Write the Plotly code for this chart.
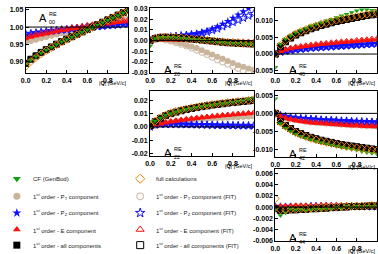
import plotly.graph_objects as go

# ---------------- data ----------------
Q = [0.0, 0.05, 0.1, 0.15, 0.2, 0.25, 0.3, 0.35, 0.4, 0.45, 0.5,
     0.55, 0.6, 0.65, 0.7, 0.75, 0.8, 0.85, 0.9, 0.95, 1.0]

# A00
A00_cf = [0.892, 0.904, 0.914, 0.924, 0.933, 0.941, 0.949, 0.957, 0.964, 0.971, 0.978, 0.985, 0.992, 0.999, 1.006, 1.013, 1.020, 1.027, 1.034, 1.041, 1.048]
A00_pt = [0.955, 0.959, 0.963, 0.967, 0.971, 0.975, 0.978, 0.982, 0.985, 0.988, 0.991, 0.994, 0.997, 1.000, 1.003, 1.006, 1.009, 1.012, 1.015, 1.018, 1.021]
A00_pt_fit = [0.958, 0.962, 0.966, 0.970, 0.974, 0.977, 0.981, 0.984, 0.987, 0.990, 0.993, 0.996, 0.999, 1.002, 1.005, 1.008, 1.011, 1.014, 1.017, 1.020, 1.023]
A00_pz = [0.977, 0.979, 0.981, 0.983, 0.985, 0.987, 0.988, 0.990, 0.991, 0.993, 0.994, 0.996, 0.997, 0.999, 1.000, 1.001, 1.003, 1.004, 1.005, 1.007, 1.008]
A00_pz_fit = [0.979, 0.981, 0.983, 0.985, 0.987, 0.989, 0.990, 0.992, 0.993, 0.995, 0.996, 0.998, 0.999, 1.001, 1.002, 1.003, 1.005, 1.006, 1.007, 1.009, 1.010]
A00_e = [0.966, 0.970, 0.974, 0.977, 0.980, 0.983, 0.986, 0.989, 0.991, 0.994, 0.996, 0.998, 1.001, 1.003, 1.005, 1.007, 1.009, 1.011, 1.013, 1.015, 1.017]
A00_e_fit = [0.970, 0.974, 0.978, 0.981, 0.984, 0.987, 0.990, 0.993, 0.995, 0.998, 1.000, 1.002, 1.005, 1.007, 1.009, 1.011, 1.013, 1.015, 1.017, 1.019, 1.021]
A00_all = [0.894, 0.906, 0.916, 0.926, 0.934, 0.942, 0.950, 0.958, 0.965, 0.972, 0.979, 0.986, 0.993, 1.000, 1.007, 1.014, 1.021, 1.028, 1.035, 1.042, 1.049]
A00_full = [0.885, 0.899, 0.911, 0.922, 0.931, 0.940, 0.948, 0.956, 0.964, 0.971, 0.978, 0.985, 0.992, 0.999, 1.006, 1.013, 1.020, 1.027, 1.034, 1.041, 1.048]

# A20
A20_cf = [-0.005, 0.002, 0.003, 0.0032, 0.003, 0.0028, 0.0025, 0.002, 0.0015, 0.001, 0.0005, 0.0, -0.0005, -0.001, -0.0015, -0.002, -0.0022, -0.0025, -0.0028, -0.003, -0.0032]
A20_pt = [0.0, 0.001, 0.0015, 0.001, 0.0, -0.001, -0.0025, -0.004, -0.0055, -0.007, -0.009, -0.011, -0.013, -0.015, -0.017, -0.019, -0.021, -0.023, -0.0245, -0.026, -0.027]
A20_pt_fit = [0.0, 0.001, 0.0015, 0.0005, -0.0005, -0.002, -0.0035, -0.005, -0.007, -0.009, -0.011, -0.013, -0.0155, -0.018, -0.020, -0.022, -0.024, -0.026, -0.028, -0.030, -0.032]
A20_pz = [0.0, 0.002, 0.003, 0.003, 0.0035, 0.004, 0.0045, 0.005, 0.006, 0.0065, 0.0075, 0.009, 0.011, 0.013, 0.0155, 0.018, 0.021, 0.024, 0.027, 0.030, 0.033]
A20_pz_fit = [0.0, 0.002, 0.003, 0.003, 0.0035, 0.004, 0.0045, 0.005, 0.0055, 0.006, 0.007, 0.008, 0.0095, 0.011, 0.013, 0.015, 0.017, 0.019, 0.021, 0.023, 0.025]
A20_e = [0.0, 0.0005, 0.001, 0.001, 0.001, 0.0008, 0.0006, 0.0005, 0.0003, 0.0002, 0.0, -0.0002, -0.0004, -0.0005, -0.0006, -0.0008, -0.001, -0.0011, -0.0012, -0.0013, -0.0015]
A20_e_fit = A20_e
A20_all = [0.0, 0.002, 0.003, 0.0032, 0.003, 0.0028, 0.0025, 0.002, 0.0015, 0.001, 0.0005, 0.0, -0.0005, -0.001, -0.0015, -0.002, -0.0022, -0.0025, -0.0028, -0.003, -0.0032]
A20_full = [0.0, 0.0022, 0.0032, 0.0034, 0.0032, 0.003, 0.0027, 0.0022, 0.0017, 0.0012, 0.0007, 0.0002, -0.0003, -0.0008, -0.0013, -0.0018, -0.0021, -0.0024, -0.0027, -0.0029, -0.0031]

# A40
A40_cf = [-0.004, 0.003, 0.0045, 0.0055, 0.0065, 0.0072, 0.0078, 0.0085, 0.009, 0.0095, 0.010, 0.0105, 0.011, 0.0115, 0.012, 0.0125, 0.013, 0.0133, 0.0133, 0.0132, 0.0132]
A40_pt = [0.0, 0.0007, 0.0011, 0.0014, 0.0017, 0.0019, 0.0021, 0.0023, 0.0025, 0.0026, 0.0028, 0.0029, 0.0031, 0.0032, 0.0033, 0.0034, 0.0035, 0.0037, 0.0038, 0.0039, 0.0040]
A40_pz = [0.0, 0.0006, 0.0009, 0.0011, 0.0013, 0.0015, 0.0016, 0.0018, 0.0019, 0.0020, 0.0021, 0.0022, 0.0023, 0.0024, 0.0025, 0.0026, 0.0027, 0.0028, 0.0029, 0.0030, 0.0031]
A40_e = [0.0, 0.0008, 0.0012, 0.0016, 0.0019, 0.0021, 0.0023, 0.0025, 0.0027, 0.0029, 0.0030, 0.0032, 0.0033, 0.0035, 0.0036, 0.0037, 0.0038, 0.0040, 0.0041, 0.0042, 0.0043]
A40_e_fit = [0.0, 0.0010, 0.0014, 0.0018, 0.0021, 0.0023, 0.0025, 0.0027, 0.0029, 0.0031, 0.0032, 0.0034, 0.0035, 0.0037, 0.0038, 0.0039, 0.0041, 0.0042, 0.0043, 0.0045, 0.0046]
A40_all = [0.0, 0.0022, 0.0037, 0.0048, 0.0057, 0.0064, 0.0070, 0.0076, 0.0081, 0.0086, 0.0090, 0.0094, 0.0098, 0.0101, 0.0104, 0.0107, 0.0110, 0.0113, 0.0116, 0.0118, 0.0120]
A40_full = [0.0, 0.0026, 0.0041, 0.0052, 0.0061, 0.0068, 0.0074, 0.0080, 0.0085, 0.0090, 0.0094, 0.0098, 0.0102, 0.0105, 0.0108, 0.0111, 0.0114, 0.0117, 0.0120, 0.0122, 0.0124]

# A22
A22_cf = [0.004, 0.0045, 0.0067, 0.0087, 0.0102, 0.0114, 0.0124, 0.0133, 0.0141, 0.0148, 0.0155, 0.0161, 0.0167, 0.0172, 0.0177, 0.0183, 0.0188, 0.0193, 0.0200, 0.0210, 0.0220]
A22_pt = [0.0, 0.0010, 0.0020, 0.0028, 0.0035, 0.0040, 0.0045, 0.0050, 0.0054, 0.0058, 0.0061, 0.0064, 0.0067, 0.0069, 0.0071, 0.0073, 0.0075, 0.0077, 0.0079, 0.0081, 0.0083]
A22_pz = [0.0, 0.0015, 0.002, 0.002, 0.002, 0.002, 0.0019, 0.0018, 0.0017, 0.0016, 0.0015, 0.0014, 0.0013, 0.0012, 0.0011, 0.0011, 0.0010, 0.0010, 0.0009, 0.0009, 0.0008]
A22_e = [0.0, 0.0015, 0.0025, 0.0033, 0.0040, 0.0046, 0.0052, 0.0057, 0.0062, 0.0067, 0.0071, 0.0075, 0.0079, 0.0083, 0.0087, 0.0090, 0.0094, 0.0097, 0.0100, 0.0103, 0.0106]
A22_all = [0.001, 0.004, 0.0065, 0.0085, 0.0100, 0.0112, 0.0122, 0.0131, 0.0139, 0.0146, 0.0153, 0.0159, 0.0165, 0.0170, 0.0175, 0.0180, 0.0184, 0.0188, 0.0192, 0.0196, 0.0200]
A22_full = [0.0015, 0.0045, 0.0070, 0.0090, 0.0105, 0.0117, 0.0127, 0.0136, 0.0144, 0.0151, 0.0158, 0.0164, 0.0170, 0.0175, 0.0180, 0.0185, 0.0189, 0.0193, 0.0197, 0.0201, 0.0205]

# A42
A42_cf = [0.004, -0.0028, -0.0040, -0.0050, -0.0057, -0.0063, -0.0068, -0.0072, -0.0076, -0.0080, -0.0084, -0.0087, -0.0090, -0.0093, -0.0096, -0.0099, -0.0102, -0.0105, -0.0108, -0.0110, -0.0112]
A42_pt = [0.0, -0.0007, -0.0012, -0.0015, -0.0018, -0.0020, -0.0022, -0.0024, -0.0025, -0.0026, -0.0027, -0.0028, -0.0029, -0.0030, -0.0031, -0.0032, -0.0032, -0.0033, -0.0034, -0.0034, -0.0035]
A42_pz = [0.0, -0.0006, -0.0009, -0.0011, -0.0013, -0.0014, -0.0015, -0.0016, -0.0017, -0.0018, -0.0019, -0.0019, -0.0020, -0.0021, -0.0021, -0.0022, -0.0023, -0.0023, -0.0024, -0.0024, -0.0025]
A42_e = [0.0, -0.0008, -0.0013, -0.0016, -0.0019, -0.0021, -0.0023, -0.0025, -0.0026, -0.0027, -0.0028, -0.0029, -0.0030, -0.0031, -0.0032, -0.0033, -0.0033, -0.0034, -0.0035, -0.0035, -0.0036]
A42_all = [0.0, -0.0022, -0.0033, -0.0042, -0.0050, -0.0056, -0.0061, -0.0066, -0.0070, -0.0074, -0.0077, -0.0080, -0.0083, -0.0086, -0.0088, -0.0090, -0.0092, -0.0094, -0.0096, -0.0098, -0.0100]
A42_full = [0.0, -0.0025, -0.0036, -0.0045, -0.0053, -0.0059, -0.0064, -0.0069, -0.0073, -0.0077, -0.0080, -0.0083, -0.0086, -0.0089, -0.0091, -0.0093, -0.0095, -0.0097, -0.0099, -0.0101, -0.0103]

# A44
A44_cf = [-0.0005, -0.0015, -0.0010, -0.0003, -0.0005, -0.0004, -0.0006, -0.0005, -0.0003, -0.0004, -0.0002, -0.0003, 0.0, -0.0002, 0.0002, 0.0, 0.0002, 0.0001, 0.0002, 0.0001, 0.0002]
A44_pt = [0.0, 0.0, 0.0, 0.0001, 0.0001, 0.0001, 0.0001, 0.0001, 0.0001, 0.0001, 0.0002, 0.0002, 0.0002, 0.0002, 0.0002, 0.0002, 0.0002, 0.0002, 0.0002, 0.0002, 0.0002]
A44_pz = [0.0, 0.0, 0.0, 0.0, 0.0, 0.0, 0.0, 0.0001, 0.0001, 0.0001, 0.0001, 0.0001, 0.0001, 0.0001, 0.0001, 0.0001, 0.0001, 0.0001, 0.0001, 0.0001, 0.0001]
A44_e = [0.0, 0.0001, 0.0001, 0.0001, 0.0002, 0.0002, 0.0002, 0.0002, 0.0002, 0.0003, 0.0003, 0.0003, 0.0003, 0.0003, 0.0003, 0.0003, 0.0003, 0.0003, 0.0003, 0.0003, 0.0003]
A44_all = [-0.0003, -0.0006, -0.0006, -0.0005, -0.0005, -0.0004, -0.0004, -0.0003, -0.0003, -0.0002, -0.0002, -0.0001, -0.0001, 0.0, 0.0, 0.0001, 0.0001, 0.0001, 0.0002, 0.0002, 0.0002]
A44_full = [0.0015, -0.0005, -0.0005, -0.0004, -0.0004, -0.0003, -0.0003, -0.0002, -0.0002, -0.0001, -0.0001, 0.0, 0.0, 0.0001, 0.0001, 0.0001, 0.0002, 0.0002, 0.0002, 0.0003, 0.0003]

# panel names, y ranges and tick values
panel_names = ["00", "20", "40", "22", "42", "44"]
y_ranges = [[0.865, 1.056], [-0.0305, 0.0305], [-0.0058, 0.0139], [-0.0222, 0.0272], [-0.0121, 0.0062], [-0.0061, 0.0068]]
y_ticks = [[0.90, 0.95, 1.00, 1.05], [-0.03, -0.02, -0.01, 0.0, 0.01, 0.02, 0.03],
           [-0.005, 0.0, 0.005, 0.010], [-0.02, -0.01, 0.0, 0.01, 0.02],
           [-0.010, -0.005, 0.0, 0.005], [-0.006, -0.004, -0.002, 0.0, 0.002, 0.004, 0.006]]
y_decimals = [2, 2, 3, 2, 3, 3]
ref_levels = [1.0, 0.0, 0.0, 0.0, 0.0, 0.0]
x_ticks = [0.0, 0.2, 0.4, 0.6, 0.8]

panel_series = [
    dict(cf=A00_cf, pt=A00_pt, pt_fit=A00_pt_fit, pz=A00_pz, pz_fit=A00_pz_fit, e=A00_e, e_fit=A00_e_fit, all=A00_all, all_fit=A00_all, full=A00_full),
    dict(cf=A20_cf, pt=A20_pt, pt_fit=A20_pt_fit, pz=A20_pz, pz_fit=A20_pz_fit, e=A20_e, e_fit=A20_e_fit, all=A20_all, all_fit=A20_all, full=A20_full),
    dict(cf=A40_cf, pt=A40_pt, pt_fit=A40_pt, pz=A40_pz, pz_fit=A40_pz, e=A40_e, e_fit=A40_e_fit, all=A40_all, all_fit=A40_all, full=A40_full),
    dict(cf=A22_cf, pt=A22_pt, pt_fit=A22_pt, pz=A22_pz, pz_fit=A22_pz, e=A22_e, e_fit=A22_e, all=A22_all, all_fit=A22_all, full=A22_full),
    dict(cf=A42_cf, pt=A42_pt, pt_fit=A42_pt, pz=A42_pz, pz_fit=A42_pz, e=A42_e, e_fit=A42_e, all=A42_all, all_fit=A42_all, full=A42_full),
    dict(cf=A44_cf, pt=A44_pt, pt_fit=A44_pt, pz=A44_pz, pz_fit=A44_pz, e=A44_e, e_fit=A44_e, all=A44_all, all_fit=A44_all, full=A44_full),
]

legend_labels_1 = ["CF (GenBod)", "1<sup>st</sup> order - P<sub>T</sub> component",
                   "1<sup>st</sup> order - P<sub>Z</sub> component", "1<sup>st</sup> order - E component",
                   "1<sup>st</sup> order - all components"]
legend_labels_2 = ["full calculations", "1<sup>st</sup> order - P<sub>T</sub> component (FIT)",
                   "1<sup>st</sup> order - P<sub>Z</sub> component (FIT)", "1<sup>st</sup> order - E component (FIT)",
                   "1<sup>st</sup> order - all components (FIT)"]

# ---------------- styles ----------------
W, H = 378, 254
FONT = "Liberation Sans, Arial, sans-serif"
GREEN = "#10a010"
TAN = "#c9b49c"
BLUE = "#1010ff"
RED = "#ff1010"
BLACK = "#000000"
ORANGE = "#f08400"

styles = {
    "pt": ("circle", TAN, 6, 0),
    "pt_fit": ("circle-open", TAN, 6, 1),
    "pz": ("star", BLUE, 6, 0),
    "pz_fit": ("star-open", BLUE, 6, 1),
    "e": ("triangle-up", RED, 6, 0),
    "e_fit": ("triangle-up-open", RED, 6, 1),
    "all": ("square", BLACK, 6, 0),
    "all_fit": ("square-open", BLACK, 6, 1),
    "cf": ("triangle-down", GREEN, 5, 0),
    "full": ("diamond-open", ORANGE, 6, 1),
}
draw_order = ["pt", "pt_fit", "pz", "pz_fit", "e", "e_fit", "all", "all_fit", "cf", "full"]

boxes = [(21, 125, 5, 72), (147, 252, 5, 72), (274, 377, 5, 72),
         (147, 252, 90, 157), (274, 377, 90, 158), (274, 377, 170, 244)]

fig = go.Figure()
layout = dict(width=W, height=H, margin=dict(l=0, r=0, t=0, b=0),
              paper_bgcolor="white", plot_bgcolor="rgba(0,0,0,0)", showlegend=False)

tickfont = dict(family=FONT, size=7, color="black")
annotations = []
shapes = []

for i, (name, ser) in enumerate(zip(panel_names, panel_series)):
    n = i + 1
    xa = "x" if n == 1 else f"x{n}"
    ya = "y" if n == 1 else f"y{n}"
    l, r, t, b = boxes[i]
    layout["xaxis" if n == 1 else f"xaxis{n}"] = dict(
        domain=[l / W, r / W], anchor=ya, range=[0, 1.0], tickmode="array",
        tickvals=x_ticks, ticktext=[f"<b>{v:.1f}</b>" for v in x_ticks],
        ticks="inside", ticklen=3, tickwidth=1, tickcolor="black",
        showline=True, linecolor="black", linewidth=1, mirror=True,
        showgrid=False, zeroline=False, tickfont=tickfont)
    d = y_decimals[i]
    layout["yaxis" if n == 1 else f"yaxis{n}"] = dict(
        domain=[1 - b / H, 1 - t / H], anchor=xa, range=y_ranges[i], tickmode="array",
        tickvals=y_ticks[i], ticktext=[f"<b>{v:.{d}f}</b>" for v in y_ticks[i]],
        ticks="inside", ticklen=3, tickwidth=1, tickcolor="black", showline=True,
        linecolor="black", linewidth=1, mirror=True, showgrid=False, zeroline=False,
        tickfont=tickfont)
    for key in draw_order:
        sym, col, sz, lw = styles[key]
        fig.add_trace(go.Scatter(
            x=Q, y=ser[key], mode="markers", xaxis=xa, yaxis=ya,
            marker=dict(symbol=sym, color=col, size=sz,
                        line=dict(color=col, width=lw))))
    shapes.append(dict(type="line", xref=f"{xa} domain", yref=ya, x0=0, x1=1,
                       y0=ref_levels[i], y1=ref_levels[i],
                       line=dict(color="black", width=1), layer="above"))
    annotations.append(dict(xref=xa, yref=f"{ya} domain", x=1.0, y=0,
                            xanchor="right", yanchor="top", yshift=-5,
                            text="|<b>Q</b>| [GeV/c]", showarrow=False,
                            font=dict(family=FONT, size=5.5, color="black")))
    ax_px = l + 18
    if i == 0:
        ay_px = 15
    elif t < 10:
        ay_px = 69
    else:
        ay_px = b - 3
    annotations.append(dict(xref="paper", yref="paper", x=ax_px / W, y=1 - ay_px / H,
                            xanchor="center", yanchor="middle", text="A", showarrow=False,
                            font=dict(family=FONT, size=11, color="black")))
    annotations.append(dict(xref="paper", yref="paper", x=(ax_px + 4) / W, y=1 - (ay_px - 4) / H,
                            xanchor="left", yanchor="middle", text="RE", showarrow=False,
                            font=dict(family=FONT, size=5.5, color="black")))
    annotations.append(dict(xref="paper", yref="paper", x=(ax_px + 4) / W, y=1 - (ay_px + 4) / H,
                            xanchor="left", yanchor="middle", text=name, showarrow=False,
                            font=dict(family=FONT, size=5.5, color="black")))

# legend drawn in a hidden pixel-coordinate subplot
layout["xaxis7"] = dict(domain=[0, 1], range=[0, W], visible=False, anchor="y7")
layout["yaxis7"] = dict(domain=[0, 1], range=[H, 0], visible=False, anchor="x7")
legend_rows = [180, 198, 215, 232, 248]
legend_keys_1 = ["cf", "pt", "pz", "e", "all"]
legend_keys_2 = ["full", "pt_fit", "pz_fit", "e_fit", "all_fit"]
for col_x, text_x, keys, labels in [(12, 26, legend_keys_1, legend_labels_1),
                                    (137, 151, legend_keys_2, legend_labels_2)]:
    for ry, key, lab in zip(legend_rows, keys, labels):
        sym, colr, sz, lw = styles[key]
        fig.add_trace(go.Scatter(
            x=[col_x], y=[ry], mode="markers", xaxis="x7", yaxis="y7",
            marker=dict(symbol=sym, color=colr, size=7,
                        line=dict(color=colr, width=1 if lw else 0)),
            cliponaxis=False, hoverinfo="skip"))
        annotations.append(dict(xref="paper", yref="paper", x=text_x / W, y=1 - ry / H,
                                xanchor="left", yanchor="middle", text=lab, showarrow=False,
                                font=dict(family=FONT, size=6, color="#222")))

layout["annotations"] = annotations
layout["shapes"] = shapes
fig.update_layout(**layout)
fig.write_html("out.html")
